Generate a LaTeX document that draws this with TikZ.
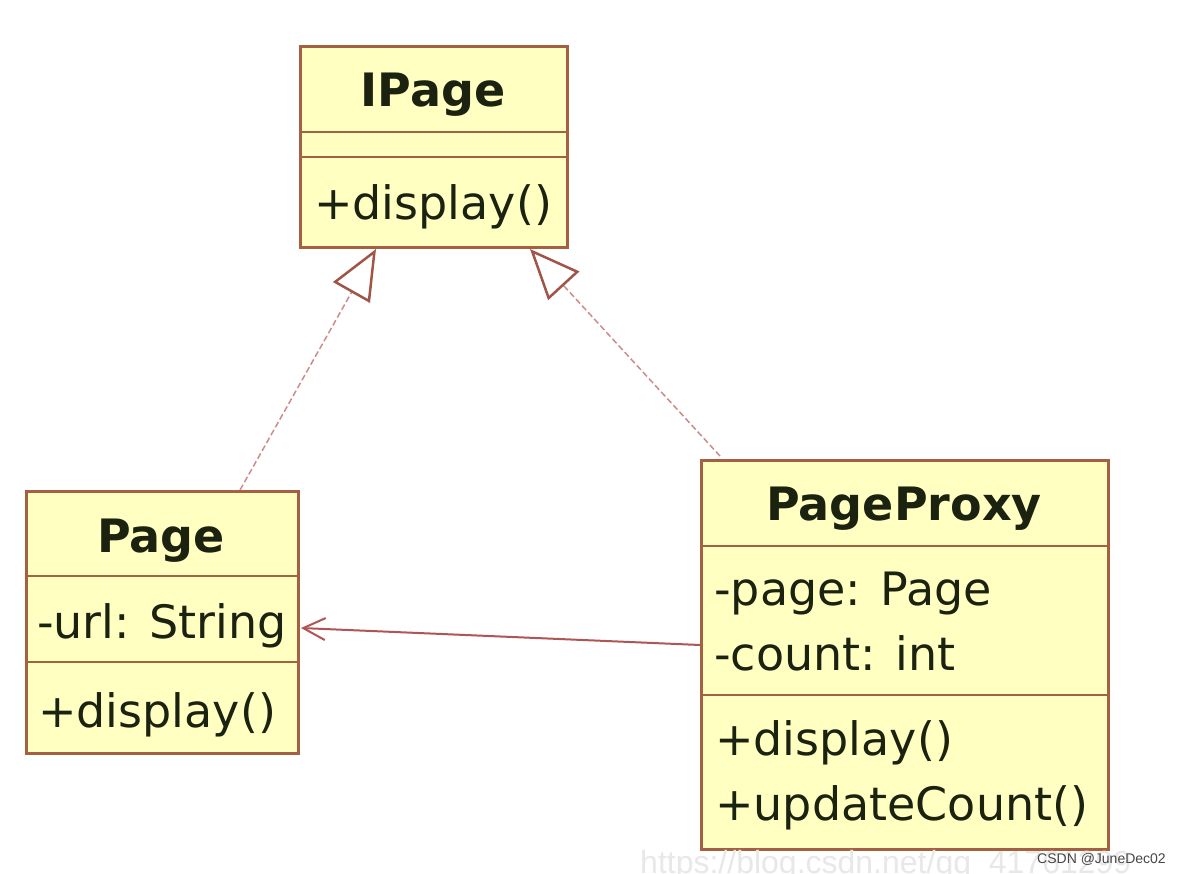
\documentclass[tikz,border=0pt]{standalone}
\usepackage{fontspec}
\setmainfont{DejaVu Sans}
\newfontfamily\wmfont{Liberation Sans}
\usetikzlibrary{arrows.meta,calc}
\definecolor{boxfill}{RGB}{255,255,194}
\definecolor{boxline}{RGB}{165,95,65}
\definecolor{txt}{RGB}{28,34,16}
\definecolor{conn}{RGB}{175,85,85}
\definecolor{dashc}{RGB}{205,140,140}
\definecolor{tipc}{RGB}{160,85,70}
\definecolor{wmurl}{RGB}{232,232,232}
\definecolor{wmcsdn}{RGB}{70,70,70}
\begin{document}
\begin{tikzpicture}[x=1pt,y=-1pt,
  classbox/.style={draw=boxline, fill=boxfill, line width=3pt, rectangle, anchor=north west, inner sep=0pt},
  sepline/.style={draw=boxline, line width=2.5pt},
  ttl/.style={anchor=base, inner sep=0pt, text=txt, font=\fontsize{46}{55}\selectfont\bfseries},
  mem/.style={anchor=base west, inner sep=0pt, text=txt, font=\fontsize{46}{55}\selectfont},
  realize/.style={draw=dashc, line width=1.5pt, dash pattern=on 6pt off 3pt,
    -{Triangle[open, length=50pt, width=42pt, line width=2.5pt, color=tipc]}},
  assoc/.style={draw=conn, line width=2pt, -{Straight Barb[length=22pt, width=22pt, line width=2pt]}}]
\fill[white] (0,0) rectangle (1180,874);
\useasboundingbox (0,0) rectangle (1180,874);

% IPage
\node[classbox, minimum width=267pt, minimum height=201pt] (ipage) at (299,45) {};
\draw[sepline] ($(ipage.north west)+(0,87)$) -- ($(ipage.north east)+(0,87)$);
\draw[sepline] ($(ipage.north west)+(0,112)$) -- ($(ipage.north east)+(0,112)$);
\node[ttl] (ipaget) at (433,107) {IPage};
\node[mem] (ipagem) at (314,220) {+display()};

% Page
\node[classbox, minimum width=272pt, minimum height=262pt] (page) at (25,490) {};
\draw[sepline] ($(page.north west)+(0,86)$) -- ($(page.north east)+(0,86)$);
\draw[sepline] ($(page.north west)+(0,172)$) -- ($(page.north east)+(0,172)$);
\node[ttl] (paget) at (161,552) {Page};
\node[mem] (pagea) at (37,638) {-url: String};
\node[mem] (pagem) at (38,727) {+display()};

% PageProxy
\node[classbox, minimum width=407pt, minimum height=389pt] (proxy) at (700,459) {};
\draw[sepline] ($(proxy.north west)+(0,87)$) -- ($(proxy.north east)+(0,87)$);
\draw[sepline] ($(proxy.north west)+(0,236)$) -- ($(proxy.north east)+(0,236)$);
\node[ttl] (proxyt) at (904,520) {PageProxy};
\node[mem] (proxya1) at (714,605) {-page: Page};
\node[mem] (proxya2) at (714,670) {-count: int};
\node[mem] (proxym1) at (715,755) {+display()};
\node[mem] (proxym2) at (715,820) {+updateCount()};

% connectors
\draw[realize] ($(page.north west)+(215,0)$) -- ($(ipage.south west)+(77,0)$);
\draw[realize] ($(proxy.north west)+(20,-3)$) -- ($(ipage.south west)+(231,0)$);
\draw[assoc] ($(proxy.north west)+(0,186)$) -- ($(page.north east)+(1,138)$);

% watermark
\node[anchor=base west, inner sep=0pt, text=wmurl, font=\wmfont\fontsize{32}{38}\selectfont] (url) at (640,873) {https://blog.csdn.net/qq\_41761299};
\node[anchor=base west, inner sep=0pt, text=wmcsdn, font=\wmfont\fontsize{14}{17}\selectfont] (csdn) at (1037,863) {CSDN @JuneDec02};
\end{tikzpicture}
\end{document}
